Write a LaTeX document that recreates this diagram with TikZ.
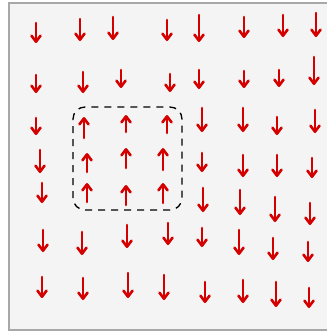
\documentclass[tikz,border=0pt]{standalone}
\usetikzlibrary{arrows.meta}
\definecolor{arrred}{RGB}{212,0,0}
\definecolor{framegray}{RGB}{168,168,168}
\definecolor{panel}{RGB}{244,244,244}
\tikzset{
  vec/.style={draw=arrred, line width=2.6pt, line cap=round,
    -{Straight Barb[length=6pt,width=9pt,round]}},
  loopbox/.style={draw=black, line width=1.3pt, dash pattern=on 7pt off 6pt, rounded corners=12pt}
}
\begin{document}
\begin{tikzpicture}[x=1pt,y=-1pt]
\useasboundingbox (0,0) rectangle (327,333);
\fill[white] (0,0) rectangle (327,333);
\draw[framegray, fill=panel, line width=2pt] (9,3) rectangle (334,330);
% downward arrows: x/top/bottom
\foreach \x/\t/\b in {
  36/23/43, 80/19/41, 113/17/40, 167/20/41, 199/15/42, 244/17/38, 283/15/37, 316/13/37,
  36/75/93, 83/72/93, 121/70/88, 170/74/92, 199/70/89, 244/71/88, 279/70/87, 314/57/85,
  36/118/135, 202/108/132, 243/108/132, 277/117/135, 315/110/133,
  40/150/173, 202/153/172, 243/155/177, 277/155/177, 312/158/178,
  42/183/203, 203/188/212, 240/190/215, 275/197/222, 310/203/225,
  43/230/252, 82/232/255, 127/225/248, 168/223/245, 202/228/247, 239/230/255, 273/238/260, 308/242/262,
  42/277/298, 83/278/300, 128/273/298, 164/275/300, 205/282/303, 243/280/303, 276/282/307, 309/288/308}
  {\coordinate (s) at (\x,\t); \coordinate (e) at (\x,\b); \draw[vec] (s) -- (e);}
% upward arrows inside the loop
\foreach \x/\t/\b in {
  84/117/138, 126/115/132, 167/115/133,
  87/153/172, 126/148/168, 163/148/170,
  87/183/202, 126/185/205, 163/183/203}
  {\coordinate (s) at (\x,\b); \coordinate (e) at (\x,\t); \draw[vec] (s) -- (e);}
\coordinate (bl) at (73,210);
\coordinate (tr) at (182,107);
\draw[loopbox] (bl) rectangle (tr);
\end{tikzpicture}
\end{document}
